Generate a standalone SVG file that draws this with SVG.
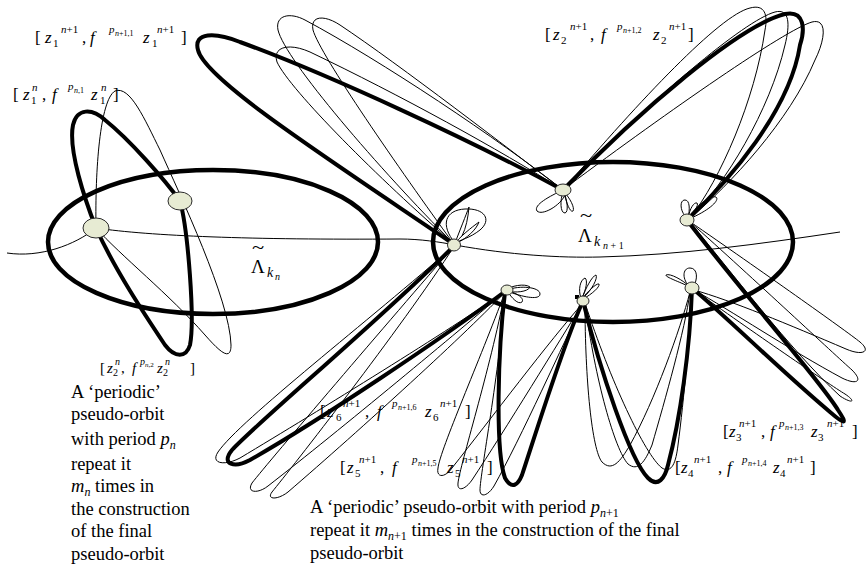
<svg xmlns="http://www.w3.org/2000/svg" width="867" height="570" viewBox="0 0 867 570">
<style>
.thk{fill:none;stroke:#000;stroke-width:4;stroke-linejoin:round}
.thn{fill:none;stroke:#000;stroke-width:1}
.reg{fill:none;stroke:#000;stroke-width:4.5}
.nd{fill:#e7ebd3;stroke:#2a2a2a;stroke-width:1}
text{font-family:"Liberation Serif","Times New Roman",serif;fill:#000}
.t{font-size:17px}
.i{font-style:italic}
.s{font-size:11px}
.ss{font-size:8px}
.t2{font-size:15px}
.s2{font-size:10px}
.ss2{font-size:7px}
.body{font-size:18.5px}
.sb{font-size:12px}
.tl{font-size:15px}
</style>
<rect width="867" height="570" fill="#fff"/>

<!-- regions -->
<g id="region-kn">
<ellipse class="reg" cx="213" cy="242" rx="165" ry="72"/>
<text class="tl" transform="translate(252,254) scale(1.5,1.2)">~</text>
<text x="251" y="273" style="font-size:19px">Λ</text>
<text x="267" y="277" class="i" style="font-size:14px">k</text>
<text x="275" y="280" class="i" style="font-size:10px">n</text>
</g>
<g id="region-kn1">
<ellipse class="reg" cx="613" cy="242" rx="180" ry="80"/>
<text class="tl" transform="translate(580,222) scale(1.5,1.2)">~</text>
<text x="578" y="242" style="font-size:19px">Λ</text>
<text x="594" y="246" class="i" style="font-size:14px">k</text>
<text x="603" y="249" style="font-size:10px"><tspan class="i">n</tspan> + 1</text>
</g>

<g id="connectors">
<!-- base curve -->
<path class="thn" d="M7,253 C40,258 75,245 96,228 C150,236 250,240 400,239 C420,239 440,242 455,245 C510,255 560,258 600,257 C680,255 760,244 840,232"/>

<!-- left group (period p_n) -->
<path class="thk" d="M96,228 C85,200 68,150 73,125 C77,108 92,108 105,120 C130,140 165,180 180,201 C188,230 195,320 190,345 C186,358 175,358 165,345 C145,315 115,270 96,228 Z"/>
<path class="thn" d="M96,228 C95,170 100,100 115,91 C130,85 145,120 160,150 C180,195 230,300 231,345 C231,362 220,352 205,335 C170,295 120,255 96,228 Z"/>

<!-- set 1: N1 -> upper left -> N2 -->
<path class="thn" d="M453,243 C380,170 285,60 278,30 C275,15 290,12 305,20 C380,60 500,140 563,190"/>
<path class="thn" d="M453,243 C400,170 320,55 313,30 C310,15 325,15 340,25 C400,65 510,150 563,190"/>
<path class="thn" d="M453,243 C380,180 290,90 277,62 C272,46 290,43 310,52 C400,95 500,150 563,190"/>
<path class="thk" d="M455,245 C330,160 205,80 198,50 C193,32 215,32 240,42 C330,75 470,140 563,190"/>

<!-- set 2: N2 -> top right -> N3 -->
<path class="thn" d="M565,188 C640,100 720,15 750,8 C765,4 768,15 765,30 C755,100 720,180 690,218"/>
<path class="thn" d="M565,188 C650,100 745,20 775,12 C790,8 790,25 785,45 C770,110 725,185 690,218"/>
<path class="thn" d="M568,186 C670,110 785,30 812,22 C828,18 825,40 815,60 C790,120 730,185 690,218"/>
<path class="thk" d="M563,190 C640,110 740,25 785,14 C805,10 805,30 800,45 C790,110 730,180 687,220"/>

<!-- set 3: N3 -> lower right -> N6 -->
<path class="thn" d="M689,221 C760,270 845,330 860,342 C872,352 862,356 846,349 C790,325 730,300 694,290"/>
<path class="thn" d="M689,221 C755,280 835,355 852,370 C864,382 856,385 842,378 C790,350 730,310 694,290"/>
<path class="thn" d="M694,290 C750,330 830,385 845,394 C857,402 852,404 840,396 C790,350 730,270 689,221"/>
<path class="thk" d="M687,220 C740,290 820,380 838,410 C848,425 845,425 830,412 C780,370 730,320 692,288"/>

<!-- set 4: N5 -> bottom -> N6 -->
<path class="thn" d="M585,303 C585,380 592,450 602,462 C612,472 620,462 630,445 C655,400 680,330 690,292"/>
<path class="thn" d="M585,303 C595,380 615,450 628,464 C638,472 645,462 652,445 C665,400 685,330 690,292"/>
<path class="thn" d="M585,303 C610,380 645,455 662,468 C672,474 676,462 678,445 C684,400 690,330 691,292"/>
<path class="thk" d="M583,301 C600,370 630,460 648,478 C658,488 665,478 668,465 C680,420 690,350 692,288"/>

<!-- set 5: N4 -> bottom -> N5 -->
<path class="thn" d="M505,292 C480,360 440,450 438,468 C436,478 445,478 452,468 C490,420 550,340 583,303"/>
<path class="thn" d="M505,292 C490,370 460,465 458,483 C457,492 465,490 472,480 C505,430 560,340 583,303"/>
<path class="thn" d="M505,292 C500,370 480,475 480,490 C480,498 488,496 494,486 C520,440 565,340 583,303"/>
<path class="thk" d="M505,292 C498,350 495,450 505,478 C512,490 518,485 522,475 C540,420 565,340 583,301"/>

<!-- set 6: N1 -> lower left -> N4 -->
<path class="thn" d="M455,245 C370,320 240,420 218,452 C210,464 225,466 240,458 C320,410 450,330 507,290"/>
<path class="thn" d="M455,245 C390,320 270,460 252,483 C246,493 258,494 268,486 C340,430 460,330 507,290"/>
<path class="thn" d="M455,245 C400,330 290,470 272,492 C266,500 278,500 288,492 C360,430 470,330 507,290"/>
<path class="thk" d="M455,245 C380,320 260,420 232,450 C220,465 235,468 250,460 C320,420 440,340 507,290"/>

<!-- small loops at nodes -->
<path class="thn" d="M455,243 C440,225 445,210 465,209 C485,208 492,220 480,230 C470,238 460,240 455,243"/>
<path class="thn" d="M455,243 C460,230 466,215 469,207 C468,218 466,228 462,236 M455,243 C465,232 475,225 479,222 C476,230 467,238 457,243"/>
<path class="thn" d="M563,190 C550,196 533,205 537,211 C542,216 560,206 565,195"/>
<path class="thn" d="M563,192 C560,200 560,213 565,213 C569,212 567,200 564,192 M564,192 C570,198 575,208 573,211 C570,213 566,202 564,192"/>
<path class="thn" d="M687,218 C680,212 679,200 685,200 C690,200 690,210 688,218 M688,218 C696,206 710,195 716,197 C720,200 710,210 689,219 M688,218 C690,208 694,202 697,203 C699,205 694,212 689,218"/>
<path class="thn" d="M507,290 C520,285 540,287 540,294 C540,300 525,298 507,291 M507,291 C512,298 518,305 522,302 C525,298 515,292 507,291 M506,290 C510,286 525,283 530,287 C528,292 515,293 507,291"/>
<path class="thn" d="M581,298 C578,290 580,280 585,278 C588,280 586,290 582,298 M582,298 C586,288 592,276 596,275 C598,278 592,290 583,298 M582,298 C588,292 596,283 599,284 C600,287 592,294 583,299"/>
<path class="thn" d="M690,287 C682,280 682,268 690,268 C698,268 698,280 693,287 M690,287 C680,282 665,277 666,275 C670,273 683,280 690,287"/>
<rect x="575" y="295" width="4" height="4" fill="#000"/>
</g>

<!-- nodes -->
<g id="node-A"><ellipse class="nd" cx="96" cy="228" rx="13" ry="10"/></g>
<g id="node-B"><ellipse class="nd" cx="180" cy="201" rx="12" ry="9"/></g>
<g id="node-N1"><ellipse class="nd" cx="454" cy="245" rx="6.5" ry="6"/></g>
<g id="node-N2"><ellipse class="nd" cx="563" cy="190" rx="8" ry="6"/></g>
<g id="node-N3"><ellipse class="nd" cx="687" cy="220" rx="7" ry="6"/></g>
<g id="node-N4"><ellipse class="nd" cx="507" cy="290" rx="6" ry="5"/></g>
<g id="node-N5"><ellipse class="nd" cx="583" cy="301" rx="6" ry="5"/></g>
<g id="node-N6"><ellipse class="nd" cx="692" cy="288" rx="7" ry="6"/></g>

<!-- interval labels -->
<g id="lbl-1n1" transform="translate(35,43)">
<text class="t">[</text><text class="t i" x="10">z</text><text class="s" x="18" y="4">1</text><text class="s" x="26" y="-10"><tspan class="i">n</tspan>+1</text>
<text class="t" x="47">,</text><text class="t i" x="55">f</text><text class="s i" x="74" y="-10">p</text><text class="ss" x="80" y="-7"><tspan class="i">n</tspan>+1,1</text>
<text class="t i" x="108">z</text><text class="s" x="117" y="4">1</text><text class="s" x="122" y="-10"><tspan class="i">n</tspan>+1</text><text class="t" x="146">]</text>
</g>
<g id="lbl-2n1" transform="translate(545,40)">
<text class="t">[</text><text class="t i" x="8">z</text><text class="s" x="16" y="4">2</text><text class="s" x="25" y="-10"><tspan class="i">n</tspan>+1</text>
<text class="t" x="45">,</text><text class="t i" x="56">f</text><text class="s i" x="72" y="-10">p</text><text class="ss" x="78" y="-7"><tspan class="i">n</tspan>+1,2</text>
<text class="t i" x="108">z</text><text class="s" x="116" y="4">2</text><text class="s" x="124" y="-10"><tspan class="i">n</tspan>+1</text><text class="t" x="143">]</text>
</g>
<g id="lbl-3n1" transform="translate(723,437)">
<text class="t">[</text><text class="t i" x="6">z</text><text class="s" x="13" y="4">3</text><text class="s" x="16" y="-10"><tspan class="i">n</tspan>+1</text>
<text class="t" x="38">,</text><text class="t i" x="47">f</text><text class="s i" x="56" y="-10">p</text><text class="ss" x="62" y="-7"><tspan class="i">n</tspan>+1,3</text>
<text class="t i" x="88">z</text><text class="s" x="95" y="4">3</text><text class="s" x="104" y="-10"><tspan class="i">n</tspan>+1</text><text class="t" x="129">]</text>
</g>
<g id="lbl-4n1" transform="translate(675,473)">
<text class="t">[</text><text class="t i" x="6">z</text><text class="s" x="13" y="4">4</text><text class="s" x="19" y="-10"><tspan class="i">n</tspan>+1</text>
<text class="t" x="43">,</text><text class="t i" x="52">f</text><text class="s i" x="67" y="-10">p</text><text class="ss" x="73" y="-7"><tspan class="i">n</tspan>+1,4</text>
<text class="t i" x="98">z</text><text class="s" x="105" y="4">4</text><text class="s" x="112" y="-10"><tspan class="i">n</tspan>+1</text><text class="t" x="135">]</text>
</g>
<g id="lbl-5n1" transform="translate(340,473)">
<text class="t">[</text><text class="t i" x="7">z</text><text class="s" x="15" y="4">5</text><text class="s" x="19" y="-10"><tspan class="i">n</tspan>+1</text>
<text class="t" x="40">,</text><text class="t i" x="52">f</text><text class="s i" x="72" y="-10">p</text><text class="ss" x="78" y="-7"><tspan class="i">n</tspan>+1,5</text>
<text class="t i" x="107">z</text><text class="s" x="115" y="4">5</text><text class="s" x="122" y="-10"><tspan class="i">n</tspan>+1</text><text class="t" x="147">]</text>
</g>
<g id="lbl-6n1" transform="translate(320,417)">
<text class="t">[</text><text class="t i" x="7">z</text><text class="s" x="16" y="4">6</text><text class="s" x="23" y="-10"><tspan class="i">n</tspan>+1</text>
<text class="t" x="45">,</text><text class="t i" x="57">f</text><text class="s i" x="72" y="-10">p</text><text class="ss" x="78" y="-7"><tspan class="i">n</tspan>+1,6</text>
<text class="t i" x="105">z</text><text class="s" x="113" y="4">6</text><text class="s" x="120" y="-10"><tspan class="i">n</tspan>+1</text><text class="t" x="145">]</text>
</g>
<g id="lbl-1n" transform="translate(13,100)">
<text class="t">[</text><text class="t i" x="10">z</text><text class="s" x="18" y="4">1</text><text class="s i" x="19" y="-9">n</text>
<text class="t" x="29">,</text><text class="t i" x="39">f</text><text class="s i" x="55" y="-10">p</text><text class="ss" x="61" y="-7"><tspan class="i">n</tspan>,1</text>
<text class="t i" x="78">z</text><text class="s" x="87" y="4">1</text><text class="s i" x="88" y="-9">n</text><text class="t" x="100">]</text>
</g>
<g id="lbl-2n" transform="translate(100,373)">
<text class="t2">[</text><text class="t2 i" x="7">z</text><text class="s2" x="13" y="3">2</text><text class="s2 i" x="15" y="-8">n</text>
<text class="t2" x="21">,</text><text class="t2 i" x="32">f</text><text class="s2 i" x="40" y="-8">p</text><text class="ss2" x="45" y="-6"><tspan class="i">n</tspan>,2</text>
<text class="t2 i" x="57">z</text><text class="s2" x="63" y="3">2</text><text class="s2 i" x="65" y="-8">n</text><text class="t2" x="90">]</text>
</g>

<!-- explanatory text -->
<g id="note-left">
<text class="body" x="71" y="398">A ‘periodic’</text>
<text class="body" x="71" y="420">pseudo-orbit</text>
<text class="body" x="71" y="445">with period <tspan class="i">p</tspan><tspan class="i sb" dy="4">n</tspan></text>
<text class="body" x="71" y="470">repeat it</text>
<text class="body" x="71" y="492"><tspan class="i">m</tspan><tspan class="i sb" dy="4">n</tspan><tspan dy="-4"> times in</tspan></text>
<text class="body" x="71" y="515">the construction</text>
<text class="body" x="71" y="537">of the final</text>
<text class="body" x="71" y="560">pseudo-orbit</text>
</g>
<g id="note-bottom">
<text class="body" x="310" y="513">A ‘periodic’ pseudo-orbit with period <tspan class="i">p</tspan><tspan class="sb" dy="4"><tspan class="i">n</tspan>+1</tspan></text>
<text class="body" x="310" y="536">repeat it <tspan class="i">m</tspan><tspan class="sb" dy="4"><tspan class="i">n</tspan>+1</tspan><tspan dy="-4"> times in the construction of the final</tspan></text>
<text class="body" x="310" y="559">pseudo-orbit</text>
</g>
</svg>
